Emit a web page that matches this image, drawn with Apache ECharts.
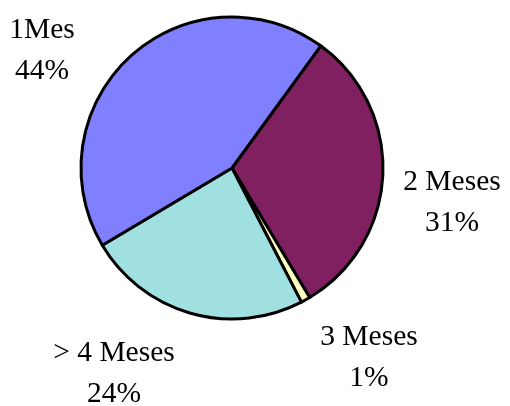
<!DOCTYPE html>
<html>
<head>
<meta charset="utf-8">
<script src="https://cdn.jsdelivr.net/npm/echarts@6/dist/echarts.min.js"></script>
<style>
html,body{margin:0;padding:0;background:#fff;}
#c{width:510px;height:406px;}
</style>
</head>
<body>
<div id="c"></div>
<script>
// Data (clockwise order, starting at the 1Mes / 2 Meses boundary)
const categories = ['2 Meses', '3 Meses', '> 4 Meses', '1Mes'];
const values = [31.4, 1.0, 24.05, 43.55];
const colors = ['#802060', '#FFFFC0', '#A0E0E0', '#8080FF'];
// label block centers (styling)
const labelPos = [[452, 203], [369, 358], [114, 374], [42, 51]];

const chart = echarts.init(document.getElementById('c'), null, {renderer: 'canvas'});
chart.setOption({
  animation: false,
  series: [{
    type: 'pie',
    center: [232, 168],
    radius: 151,
    startAngle: 54,
    clockwise: true,
    avoidLabelOverlap: false,
    data: categories.map((n, i) => ({
      name: n, value: values[i],
      itemStyle: {color: colors[i]}
    })),
    itemStyle: {borderColor: '#000', borderWidth: 3},
    label: {
      show: true,
      position: 'outside',
      formatter: p => p.name + '\n' + Math.round(p.percent) + '%',
      fontFamily: '"Liberation Serif", "Times New Roman", serif',
      fontSize: 29.5,
      lineHeight: 41,
      color: '#000',
      align: 'center'
    },
    labelLine: {show: false},
    labelLayout: function (params) {
      const p = labelPos[params.dataIndex];
      return {x: p[0], y: p[1], align: 'center', verticalAlign: 'middle'};
    },
    emphasis: {disabled: true}
  }]
});
</script>
</body>
</html>
